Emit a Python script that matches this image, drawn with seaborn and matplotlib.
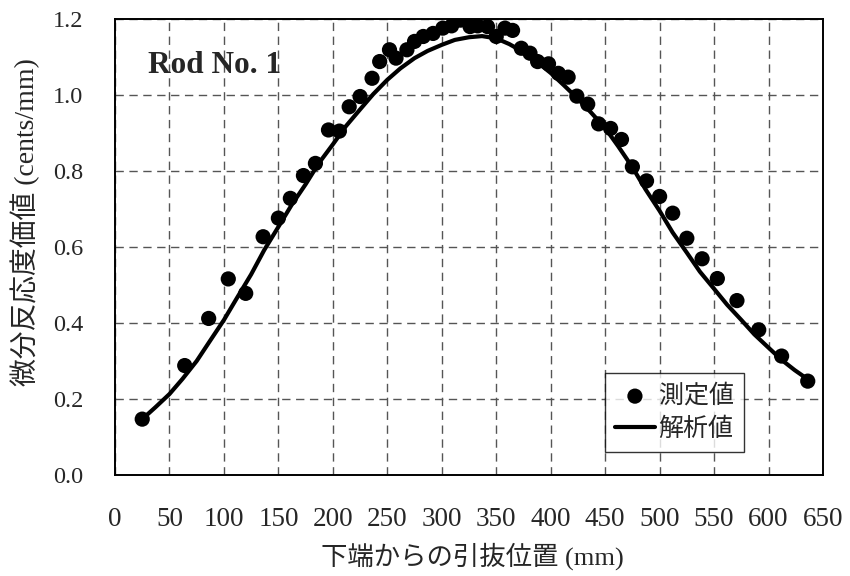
# Rod No. 1 - differential reactivity worth vs. withdrawal position
import matplotlib
matplotlib.use("Agg")
import pandas as pd
import seaborn as sns
import matplotlib.pyplot as plt
from matplotlib.ticker import MultipleLocator, FormatStrFormatter

# === Data ===
# measured points (mm from bottom end, cents/mm)
meas_pos = [25, 64, 86, 104, 120, 136, 150, 161, 173, 184, 196, 206, 215, 225,
            236, 243, 252, 258, 268, 275, 283, 292, 301, 309, 317, 326, 333,
            342, 350, 358, 365, 373, 381, 388, 398, 407, 416, 424, 434, 444,
            455, 465, 475, 488, 500, 512, 525, 539, 553, 571, 591, 612, 636]
meas_val = [0.147, 0.288, 0.412, 0.516, 0.478, 0.627, 0.676, 0.728, 0.788,
            0.820, 0.908, 0.905, 0.969, 0.996, 1.044, 1.088, 1.119, 1.097,
            1.119, 1.141, 1.154, 1.162, 1.176, 1.182, 1.197, 1.180, 1.182,
            1.180, 1.154, 1.176, 1.170, 1.123, 1.110, 1.088, 1.082, 1.057,
            1.047, 0.997, 0.976, 0.924, 0.912, 0.883, 0.811, 0.774, 0.733,
            0.689, 0.623, 0.569, 0.517, 0.459, 0.382, 0.313, 0.247]

# analysis curve (read at ~12 mm steps)
calc_pos = [25, 37, 50, 62, 75, 87, 100, 112, 125, 137, 150, 162, 175, 187,
            200, 212, 225, 237, 250, 262, 275, 287, 300, 312, 325, 337, 350,
            362, 375, 387, 400, 412, 425, 437, 450, 462, 475, 487, 500, 512,
            525, 537, 550, 562, 575, 587, 600, 612, 624, 636]
calc_val = [0.147, 0.178, 0.213, 0.253, 0.300, 0.352, 0.408, 0.466, 0.528,
            0.592, 0.653, 0.71, 0.765, 0.82, 0.87, 0.918, 0.962, 1.002, 1.04,
            1.07, 1.097, 1.116, 1.132, 1.145, 1.152, 1.155, 1.149, 1.134,
            1.113, 1.088, 1.058, 1.026, 0.99, 0.954, 0.913, 0.865, 0.81,
            0.752, 0.695, 0.638, 0.585, 0.535, 0.49, 0.448, 0.408, 0.37,
            0.335, 0.303, 0.276, 0.252]

meas_df = pd.DataFrame({"pos": meas_pos, "val": meas_val})
calc_df = pd.DataFrame({"pos": calc_pos, "val": calc_val})

# === Style ===
sns.set_style("white")
serif_jp = ["Liberation Serif", "Noto Sans CJK JP"]
plt.rcParams["font.family"] = serif_jp

fig = plt.figure(figsize=(8.5, 5.76), dpi=100)
ax = fig.add_axes([115 / 850, 101 / 576, 708 / 850, 456 / 576])

sns.lineplot(data=calc_df, x="pos", y="val", ax=ax, color="black",
             linewidth=3.0, label="解析値", zorder=3)
sns.scatterplot(data=meas_df, x="pos", y="val", ax=ax, color="black",
                s=120, edgecolor="none", label="測定値", zorder=4)

ax.set_xlim(0, 650)
ax.set_ylim(0, 1.2)
ax.xaxis.set_major_locator(MultipleLocator(50))
ax.yaxis.set_major_locator(MultipleLocator(0.2))
ax.yaxis.set_major_formatter(FormatStrFormatter("%.1f"))
ax.grid(True, color="#555555", linewidth=1.0, linestyle=(0, (6, 4)))
ax.set_axisbelow(True)
for sp in ax.spines.values():
    sp.set_color("black")
    sp.set_linewidth(1.4)

ax.tick_params(axis="x", length=0, pad=23, labelsize=19.5)
ax.tick_params(axis="y", length=0, pad=23, labelsize=17.5)
for lab in ax.get_xticklabels() + ax.get_yticklabels():
    lab.set_fontfamily("Liberation Serif")

ax.set_xlabel("")
ax.set_ylabel("")

# legend: dots first, then line
handles, labels = ax.get_legend_handles_labels()
order = [labels.index("測定値"), labels.index("解析値")]
leg = ax.legend([handles[i] for i in order], [labels[i] for i in order],
                loc="lower left", bbox_to_anchor=(0.692, 0.05),
                prop={"family": "Noto Sans CJK JP", "size": 18},
                frameon=True, fancybox=False, edgecolor="black",
                handlelength=1.6, handletextpad=0.15, borderpad=0.4,
                labelspacing=0.3, borderaxespad=0)
leg.get_frame().set_linewidth(1.0)

ax.text((148 - 115) / 708, (475 - 73) / 456, "Rod No. 1",
        transform=ax.transAxes, fontfamily="Liberation Serif",
        fontweight="bold", fontsize=22.5, va="baseline", ha="left")

fig.text(25 / 850, (576 - 222) / 576, "微分反応度価値 (cents/mm)",
         rotation=90, ha="center", va="center", fontsize=20,
         family=serif_jp)
fig.text(472 / 850, (576 - 556) / 576, "下端からの引抜位置 (mm)",
         ha="center", va="center", fontsize=19, family=serif_jp)

fig.savefig("out.png", dpi=100)
